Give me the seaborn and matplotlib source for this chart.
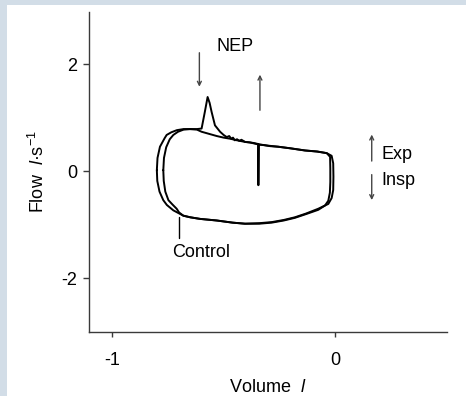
import matplotlib
matplotlib.use("Agg")
import matplotlib.pyplot as plt
import seaborn as sns
import pandas as pd
from matplotlib.patches import Rectangle

# ---- data ----
control_vol = [-0.800, -0.797, -0.786, -0.765, -0.756, -0.735, -0.710, -0.680, -0.651, -0.620,
               -0.599, -0.565, -0.531, -0.500, -0.471, -0.440, -0.404, -0.382, -0.352, -0.300,
               -0.255, -0.200, -0.135, -0.080, -0.037, -0.015, -0.008, -0.007, -0.008, -0.015,
               -0.030, -0.075, -0.130, -0.180, -0.230, -0.284, -0.340, -0.404, -0.460, -0.531,
               -0.606, -0.650, -0.681, -0.726, -0.755, -0.771, -0.788, -0.798, -0.800]
control_flow = [0.02, 0.25, 0.46, 0.62, 0.68, 0.73, 0.77, 0.79, 0.79, 0.78,
                0.74, 0.70, 0.66, 0.63, 0.61, 0.58, 0.55, 0.54, 0.51, 0.48,
                0.46, 0.43, 0.39, 0.37, 0.34, 0.29, 0.15, -0.10, -0.35, -0.50,
                -0.61, -0.70, -0.79, -0.86, -0.91, -0.95, -0.97, -0.98, -0.96, -0.92,
                -0.89, -0.86, -0.83, -0.73, -0.63, -0.54, -0.38, -0.18, 0.02]

nep_vol = [-0.771, -0.768, -0.758, -0.742, -0.726, -0.705, -0.680, -0.651, -0.620, -0.599,
           -0.585, -0.572, -0.563, -0.554, -0.539, -0.516, -0.500, -0.486, -0.475, -0.466,
           -0.458, -0.450, -0.440, -0.430, -0.420, -0.404, -0.382, -0.365, -0.344, -0.344,
           -0.343, -0.320, -0.290, -0.255, -0.200, -0.135, -0.080, -0.037, -0.022, -0.021,
           -0.021, -0.023, -0.030, -0.045, -0.075, -0.130, -0.180, -0.230, -0.284, -0.340,
           -0.404, -0.460, -0.531, -0.606, -0.650, -0.681, -0.700, -0.711, -0.730, -0.748,
           -0.762, -0.769, -0.771]
nep_flow = [0.02, 0.25, 0.45, 0.60, 0.68, 0.74, 0.78, 0.79, 0.79, 0.80,
            1.10, 1.39, 1.28, 1.11, 0.86, 0.74, 0.68, 0.64, 0.66, 0.61,
            0.63, 0.58, 0.60, 0.57, 0.59, 0.55, 0.54, 0.53, 0.51, -0.26,
            0.50, 0.49, 0.47, 0.46, 0.43, 0.39, 0.37, 0.34, 0.27, 0.05,
            -0.20, -0.40, -0.55, -0.64, -0.72, -0.80, -0.87, -0.92, -0.96, -0.98,
            -0.98, -0.96, -0.92, -0.89, -0.86, -0.83, -0.77, -0.70, -0.62, -0.54,
            -0.38, -0.18, 0.02]

xticks = [-1, 0]
yticks = [-2, 0, 2]

# ---- styling ----
sns.set_theme(style="ticks")
plt.rcParams["font.family"] = ["Liberation Sans Narrow", "Liberation Sans", "DejaVu Sans"]
plt.rcParams["mathtext.fontset"] = "custom"
plt.rcParams["mathtext.rm"] = "Liberation Sans"
plt.rcParams["mathtext.it"] = "Liberation Sans:italic"
plt.rcParams["text.color"] = "black"
plt.rcParams["axes.labelcolor"] = "black"
plt.rcParams["xtick.labelcolor"] = "black"
plt.rcParams["ytick.labelcolor"] = "black"

fig = plt.figure(figsize=(4.66, 3.96), dpi=100)
fig.patch.set_facecolor("#d2dde7")
fig.patches.append(Rectangle((7 / 466, 0), 1 - 7 / 466, 1 - 5 / 396,
                             transform=fig.transFigure, facecolor="white",
                             edgecolor="none", zorder=-5))
ax = fig.add_axes([88.7 / 466, 1 - 331.7 / 396, (447 - 88.7) / 466, (331.7 - 12) / 396])
ax.set_zorder(2)
ax.set_facecolor("none")

df_c = pd.DataFrame({"Volume": control_vol, "Flow": control_flow})
df_n = pd.DataFrame({"Volume": nep_vol, "Flow": nep_flow})
sns.lineplot(data=df_c, x="Volume", y="Flow", sort=False, estimator=None,
             color="black", linewidth=1.4, ax=ax)
sns.lineplot(data=df_n, x="Volume", y="Flow", sort=False, estimator=None,
             color="black", linewidth=1.4, ax=ax)

ax.set_xlim(-1.106, 0.503)
ax.set_ylim(-3.0, 2.98)
ax.set_xticks(xticks)
ax.set_yticks(yticks)
ax.set_xticklabels([str(v) for v in xticks])
ax.set_yticklabels([str(v) for v in yticks])
for side in ("top", "right"):
    ax.spines[side].set_visible(False)
for side in ("left", "bottom"):
    ax.spines[side].set_color("#3a3a3a")
    ax.spines[side].set_linewidth(1.0)
ax.tick_params(axis="y", length=4, width=1, color="#3a3a3a", labelsize=13, pad=4)
ax.tick_params(axis="x", length=3.5, width=1, color="#3a3a3a", labelsize=13, pad=11)

ax.set_xlabel(r"Volume  $\mathit{l}$", fontsize=13, labelpad=7)
ax.set_ylabel(r"Flow  $\mathit{l}$·s$^{-1}$", fontsize=13, labelpad=10)

arrow_kw = dict(arrowstyle="->", color="#444444", lw=1.0, mutation_scale=7)
ax.annotate("", xy=(-0.609, 1.53), xytext=(-0.609, 2.27), arrowprops=arrow_kw)
ax.annotate("", xy=(-0.337, 1.86), xytext=(-0.337, 1.09), arrowprops=arrow_kw)
ax.annotate("", xy=(0.165, 0.74), xytext=(0.165, 0.14), arrowprops=arrow_kw)
ax.annotate("", xy=(0.165, -0.59), xytext=(0.165, -0.01), arrowprops=arrow_kw)
ax.plot([-0.70, -0.70], [-0.86, -1.24], color="black", lw=1.0)

ax.text(-0.449, 2.33, "NEP", fontsize=13, ha="center", va="center")
ax.text(0.21, 0.32, "Exp", fontsize=13, ha="left", va="center")
ax.text(0.21, -0.17, "Insp", fontsize=13, ha="left", va="center")
ax.text(-0.73, -1.51, "Control", fontsize=13, ha="left", va="center")

fig.savefig("out.png", dpi=100, facecolor=fig.get_facecolor())
